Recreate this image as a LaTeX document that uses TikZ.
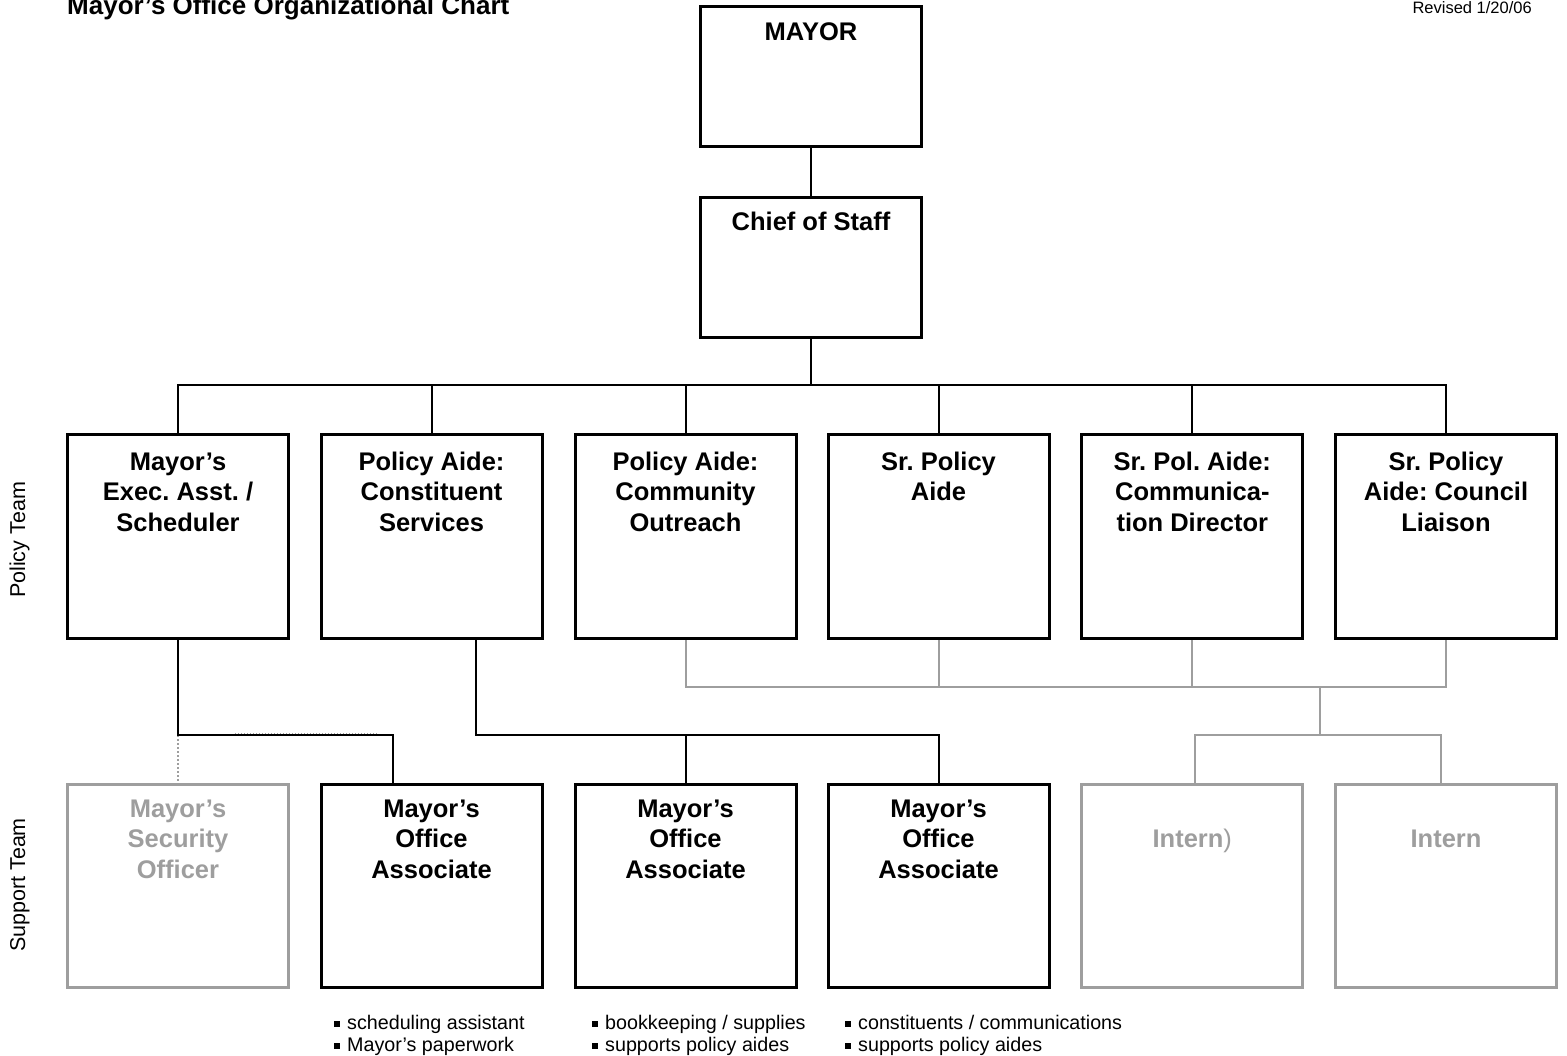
\documentclass[tikz,border=0pt]{standalone}
\usepackage{fontspec}
\setmainfont{Liberation Sans}
\definecolor{lite}{HTML}{9E9E9E}
\frenchspacing
\begin{document}
\begin{tikzpicture}[x=1pt,y=-1pt,
  box/.style={draw, line width=3pt, minimum width=221pt, inner sep=0pt},
  litebox/.style={box, draw=lite},
  boxtext/.style={anchor=north, inner sep=0pt, align=center,
    font=\fontsize{25.5}{30.5}\selectfont\bfseries},
  litetext/.style={boxtext, text=lite},
  conn/.style={line width=2pt, black},
  gline/.style={line width=2pt, lite},
  dotline/.style={line width=2pt, lite, dotted},
  notes/.style={anchor=north west, inner sep=0pt, align=left,
    font=\fontsize{19.7}{22}\selectfont},
  side/.style={rotate=90, anchor=base, inner sep=0pt,
    font=\fontsize{21.5}{24}\selectfont}
]
\useasboundingbox (0,0) rectangle (1567,1056);

% header
\node[anchor=base west, inner sep=0pt, font=\fontsize{26}{30}\selectfont\bfseries]
  (title) at (67,14.5) {Mayor’s Office Organizational Chart};
\node[anchor=base east, inner sep=0pt, font=\fontsize{16.5}{19}\selectfont]
  (rev) at (1532,14) {Revised 1/20/06};

% row labels
\node[side] (pteam) at (25,540) {Policy Team};
\node[side] (steam) at (25,885) {Support Team};

% top of the chart
\node[box, minimum height=140pt] (m) at (811,76.5) {};
\node[boxtext] (mt) at (811,20) {\rule{0pt}{20pt}MAYOR};
\node[box, minimum height=139.5pt] (cs) at (811,267.75) {};
\node[boxtext] (cst) at (811,210) {\rule{0pt}{20pt}Chief of Staff};

% policy team
\foreach \n/\x in {p1/178, p2/431.5, p3/685.5, p4/938.5, p5/1192.3, p6/1446}
  \node[box, minimum height=203.7pt] (\n) at (\x,536.7) {};
\node[boxtext] (p1t) at (178,450) {\rule{0pt}{20pt}Mayor’s\\Exec. Asst. /\\Scheduler};
\node[boxtext] (p2t) at (431.5,450) {\rule{0pt}{20pt}Policy Aide:\\Constituent\\Services};
\node[boxtext] (p3t) at (685.5,450) {\rule{0pt}{20pt}Policy Aide:\\Community\\Outreach};
\node[boxtext] (p4t) at (938.5,450) {\rule{0pt}{20pt}Sr. Policy\\Aide};
\node[boxtext] (p5t) at (1192.3,450) {\rule{0pt}{20pt}Sr. Pol. Aide:\\Communica-\\tion Director};
\node[boxtext] (p6t) at (1446,450) {\rule{0pt}{20pt}Sr. Policy\\Aide: Council\\Liaison};

% support team
\node[litebox, minimum height=203.3pt] (sec) at (178,885.8) {};
\foreach \n/\x in {a1/431.5, a2/685.5, a3/938.5}
  \node[box, minimum height=203.3pt] (\n) at (\x,885.8) {};
\foreach \n/\x in {i1/1192.3, i2/1446}
  \node[litebox, minimum height=203.3pt] (\n) at (\x,885.8) {};
\node[litetext] (sect) at (178,797) {\rule{0pt}{20pt}Mayor’s\\Security\\Officer};
\foreach \n/\x in {a1t/431.5, a2t/685.5, a3t/938.5}
  \node[boxtext] (\n) at (\x,797) {\rule{0pt}{20pt}Mayor’s\\Office\\Associate};
\node[litetext] (i1t) at (1192.3,797) {\rule{0pt}{20pt}\\Intern{\mdseries)}};
\node[litetext] (i2t) at (1446,797) {\rule{0pt}{20pt}\\Intern};

% duties under the associates
\newcommand{\sqbul}{\rule[2.5pt]{6pt}{6pt}\hspace{7pt}}
\node[notes] (n1) at (334,1014) {\rule{0pt}{15pt}\sqbul scheduling assistant\\\sqbul Mayor’s paperwork};
\node[notes] (n2) at (592,1014) {\rule{0pt}{15pt}\sqbul bookkeeping / supplies\\\sqbul supports policy aides};
\node[notes] (n3) at (845,1014) {\rule{0pt}{15pt}\sqbul constituents / communications\\\sqbul supports policy aides};

% reporting lines
\draw[conn] (m.south) -- (cs.north);
\coordinate (bus) at (811,385);
\draw[conn] (cs.south) -- (bus);
\foreach \n in {p1,p2,p3,p4,p5,p6}
  \draw[conn] (\n.north) |- (bus);

% executive assistant to security officer and first associate
\coordinate (k1) at (178,735);
\coordinate (j1) at (393,735);
\draw[line width=1pt, lite, dotted] (235,733) -- (378,733);
\draw[dotline] (k1) -- (sec.north);
\draw[conn] (p1.south) |- (j1) -- (j1 |- a1.north);

% constituent services aide to the other two associates
\coordinate (j2) at (476,735);
\draw[conn] (p2.south -| j2) -- (j2) -| (a3.north);
\draw[conn] (a2.north) -- (a2.north |- j2);

% policy aides to interns
\coordinate (g) at (1319.5,687);
\coordinate (h) at (1319.5,735);
\coordinate (hl) at (1195,735);
\coordinate (hr) at (1441,735);
\foreach \n in {p3,p4,p5,p6}
  \draw[gline] (\n.south) |- (g);
\draw[gline] (g) -- (h);
\draw[gline] (i1.north -| hl) -- (hl) -- (hr) -- (i2.north -| hr);
\end{tikzpicture}
\end{document}
